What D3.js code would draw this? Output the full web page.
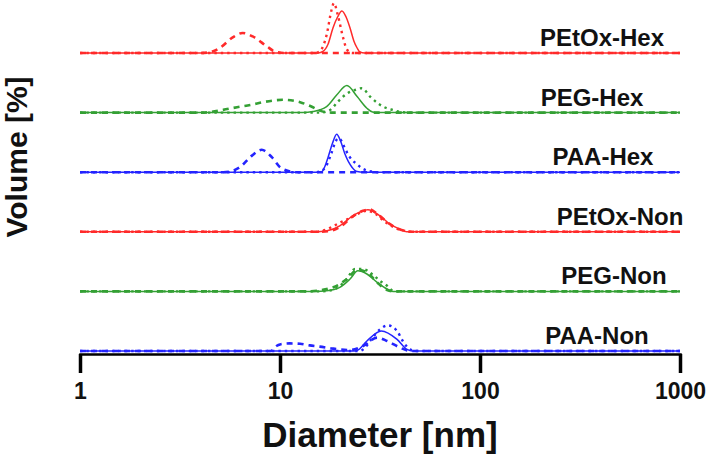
<!DOCTYPE html>
<html>
<head>
<meta charset="utf-8">
<script src="https://d3js.org/d3.v7.min.js"></script>
<style>
  body { margin: 0; background: #fff; }
  text { font-family: "Liberation Sans", Arial, sans-serif; font-weight: bold; }
</style>
</head>
<body>
<svg width="708" height="454"></svg>
<script>

// sample names, top to bottom
var samples = ["PEtOx-Hex", "PEG-Hex", "PAA-Hex", "PEtOx-Non", "PEG-Non", "PAA-Non"];
var xTicks = [1, 10, 100, 1000];

// [diameter nm, volume %] for each run
var petoxHexSolid  = [[1,0],[15.5,0],[16.4,0.8],[17.4,4.5],[18.4,12.5],[19.4,18],[20.4,21],[21.4,18],[22.4,12.5],[23.4,6],[24.3,2.5],[25.1,0.5],[26.5,0],[1000,0]];
var petoxHexDashed = [[1,0],[4,0],[4.4,0.3],[5,2.5],[5.8,7.8],[6.5,10],[7.3,8.3],[8.6,3.3],[9.4,0.8],[10.5,0],[1000,0]];
var petoxHexDotted = [[1,0],[15,0],[15.8,0.8],[17.1,9],[18.1,21.5],[18.6,25],[19.5,18.5],[20.7,7.5],[21.6,1.7],[23,0],[1000,0]];

var pegHexSolid  = [[1,0],[13,0],[14.6,0.5],[17.1,3],[19.2,8.8],[21.6,13.5],[24.3,8],[27.2,2.2],[29,0.3],[31,0],[1000,0]];
var pegHexDashed = [[1,0],[4,0],[4.5,0.3],[5.2,1.35],[6.1,2.7],[7.1,3.8],[8.2,5.2],[10.4,6.4],[12.6,5.2],[14.6,2.7],[15.8,1],[17,0.2],[18,0],[1000,0]];
var pegHexDotted = [[1,0],[16,0],[17.8,1.3],[19.5,5.5],[21.6,9.5],[23.7,11.3],[25.7,12.2],[28.2,8],[30.9,4.6],[34.3,2.1],[36.7,1.3],[40,0.3],[44,0],[1000,0]];

var paaHexSolid  = [[1,0],[15.5,0],[16.2,0.3],[16.7,2.5],[17.4,7.5],[18.3,14.5],[19.2,19],[20.1,15.5],[21.1,9.2],[22.9,2.5],[24.3,0.3],[26,0],[1000,0]];
var paaHexDashed = [[1,0],[5.2,0],[5.6,0.3],[6.3,2.5],[7.24,8.3],[8.1,11.2],[9.1,7.5],[10,2.5],[10.8,0.8],[12,0],[1000,0]];
var paaHexDotted = [[1,0],[15,0],[16,0.5],[17,3],[18,9],[19,15.5],[19.5,17],[20,16.5],[21,12.5],[22,8.5],[23,6],[24.3,4],[25.5,2.2],[27,1],[29,0.3],[31,0],[1000,0]];

var petoxNonSolid  = [[1,0],[15,0],[17.2,0.5],[19.9,3],[23.1,8],[27.5,11],[31.6,8],[35.5,3.8],[39.8,1.3],[43,0],[1000,0]];
var petoxNonDashed = [[1,0],[15.5,0],[17.5,0.3],[20,2.5],[23,7.5],[26,10.5],[28,11.2],[31,8.5],[35,4.2],[39,1.5],[43,0.3],[46,0],[1000,0]];
var petoxNonDotted = [[1,0],[15,0],[16.5,0.7],[17.8,2],[19.9,4.5],[21.8,6.3],[24.3,8.8],[27.2,10.5],[30,9],[33,5.5],[37,2.3],[41,0.7],[45,0],[1000,0]];

var pegNonSolid  = [[1,0],[15,0],[17.1,0.3],[19.9,2],[22.4,6.2],[24.5,10.3],[27.2,8.7],[30.6,4.5],[34.3,1.2],[36.7,0],[1000,0]];
var pegNonDashed = [[1,0],[13,0],[15.3,0.3],[17.1,1.2],[19.2,2.8],[21.6,6.2],[24.3,10.7],[27.2,9.5],[30.6,4.5],[34.3,0.7],[37,0],[1000,0]];
var pegNonDotted = [[1,0],[16,0],[17.5,0.3],[19.5,2],[21.5,6],[23.7,11.2],[26,11.2],[28.8,8.7],[31.6,5.3],[34.3,2.8],[36.7,0.3],[40,0],[1000,0]];

var paaNonSolid  = [[1,0],[23,0],[24.3,0.3],[27.2,5],[32.1,10],[38.5,5.8],[43.2,0.8],[46,0],[1000,0]];
var paaNonDashed = [[1,0],[9,0],[9.6,2.5],[10,3.3],[11.2,3.8],[12.6,3.6],[14.1,2.8],[15.8,2.2],[18.4,1.2],[22.4,0.5],[26,2.5],[30.6,6.7],[34.3,5],[39.8,1.7],[43.2,0.3],[46,0],[1000,0]];
var paaNonDotted = [[1,0],[25,0],[26.5,1.5],[28.2,5],[31.6,10.8],[34.6,12.8],[38.5,10],[41.1,5],[44.7,0.8],[48,0],[1000,0]];

var runs = [
  [petoxHexSolid, petoxHexDashed, petoxHexDotted],
  [pegHexSolid, pegHexDashed, pegHexDotted],
  [paaHexSolid, paaHexDashed, paaHexDotted],
  [petoxNonSolid, petoxNonDashed, petoxNonDotted],
  [pegNonSolid, pegNonDashed, pegNonDotted],
  [paaNonSolid, paaNonDashed, paaNonDotted]
];

// ---- drawing ----
var svg = d3.select("svg");
var colors = ["#ff2a2a", "#34a034", "#2424ff", "#ff2a2a", "#34a034", "#2424ff"];
var labelX = [602, 592, 603, 620, 614, 597];
var lineStyles = [
  { width: 1.5, dash: null },
  { width: 2.6, dash: "6,5" },
  { width: 2.4, dash: "2.4,4" }
];

var x = d3.scaleLog().domain([1, 1000]).range([80, 680]);
var panelY = d3.scaleLinear().domain([0, samples.length - 1]).range([53, 351]);
var vol = d3.scaleLinear().domain([0, 30]).range([0, 60]);

// axis
var axis = svg.append("g")
    .attr("transform", "translate(0,354)")
    .call(d3.axisBottom(x)
      .tickValues(xTicks)
      .tickFormat(d3.format("d"))
      .tickSizeOuter(0)
      .tickSize(19)
      .tickPadding(10));
axis.select(".domain").attr("stroke", "#000").attr("stroke-width", 2.5);
axis.selectAll(".tick line").attr("stroke", "#000").attr("stroke-width", 3.5);
axis.selectAll(".tick text")
    .attr("fill", "#111")
    .style("font-size", "23px")
    .style("font-family", "'Liberation Sans', Arial, sans-serif")
    .style("font-weight", "bold");

svg.append("text")
    .attr("x", 380)
    .attr("y", 447)
    .attr("text-anchor", "middle")
    .style("font-size", "35px")
    .attr("fill", "#111")
    .text("Diameter [nm]");

svg.append("text")
    .attr("transform", "translate(27,157) rotate(-90)")
    .attr("text-anchor", "middle")
    .style("font-size", "30px")
    .attr("fill", "#111")
    .text("Volume [%]");

// distributions
samples.forEach(function(name, i) {
  var base = panelY(i);
  var line = d3.line()
      .x(function(d) { return x(d[0]); })
      .y(function(d) { return base - vol(d[1]); })
      .curve(d3.curveMonotoneX);

  var g = svg.append("g").attr("class", "panel");

  g.selectAll("path")
    .data(runs[i])
    .enter().append("path")
      .attr("d", line)
      .attr("fill", "none")
      .attr("stroke", colors[i])
      .attr("stroke-width", function(d, j) { return lineStyles[j].width; })
      .attr("stroke-dasharray", function(d, j) { return lineStyles[j].dash; });

  g.append("text")
      .attr("x", labelX[i])
      .attr("y", base - 7)
      .attr("text-anchor", "middle")
      .style("font-size", "24px")
      .attr("fill", "#111")
      .text(name);
});

</script>
</body>
</html>
